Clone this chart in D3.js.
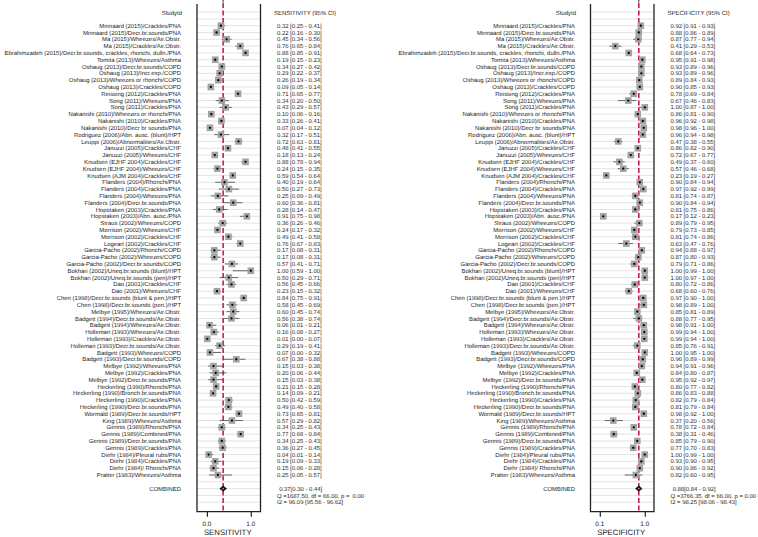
<!DOCTYPE html>
<html>
<head>
<meta charset="utf-8">
<script src="https://cdn.jsdelivr.net/npm/d3@7"></script>
<style>
  html, body { margin: 0; padding: 0; background: #fff; }
  svg text { font-family: "Liberation Sans", Arial, sans-serif; fill: #222; white-space: pre; text-rendering: geometricPrecision; }
</style>
</head>
<body>
<svg id="chart" width="758" height="537"></svg>
<script>
// ---------------- DATA ----------------
const studies = [
  "Minnaard (2015)/Crackles/PNA",
  "Minnaard (2015)/Decr.br.sounds/PNA",
  "Ma (2015)/Wheezes/Air.Obstr.",
  "Ma (2015)/Crackles/Air.Obstr.",
  "Ebrahimzadeh (2015)/Decr.br.sounds, crackles, rhonchi, dulln./PNA",
  "Tomita (2013)/Wheezes/Asthma",
  "Oshaug (2013)/Decr.br.sounds/COPD",
  "Oshaug (2013)/Incr.exp./COPD",
  "Oshaug (2013)/Wheezes or rhonchi/COPD",
  "Oshaug (2013)/Crackles/COPD",
  "Reissing (2012)/Crackles/PNA",
  "Song (2011)/Wheezes/PNA",
  "Song (2011)/Crackles/PNA",
  "Nakanishi (2010)/Wheezes or rhonchi/PNA",
  "Nakanishi (2010)/Crackles/PNA",
  "Nakanishi (2010)/Decr br sounds/PNA",
  "Rodriguez (2006)/Abn. ausc. (blunt)/HPT",
  "Leuppi (2006)/Abnormalities/Air.Obstr.",
  "Januzzi (2005)/Crackles/CHF",
  "Januzzi (2005)/Wheezes/CHF",
  "Knudsen (EJHF 2004)/Crackles/CHF",
  "Knudsen (EJHF 2004)/Wheezes/CHF",
  "Knudsen (AJM 2004)/Crackles/CHF",
  "Flanders (2004)/Rhonchi/PNA",
  "Flanders (2004)/Crackles/PNA",
  "Flanders (2004)/Wheezes/PNA",
  "Flanders (2004)/Decr.br.sounds/PNA",
  "Hopstaken (2003)/Crackles/PNA",
  "Hopstaken (2003)/Abn. ausc./PNA",
  "Straus (2002)/Wheezes/COPD",
  "Morrison (2002)/Wheezes/CHF",
  "Morrison (2002)/Crackles/CHF",
  "Logeart (2002)/Crackles/CHF",
  "Garcia-Pacho (2002)/Rhonchi/COPD",
  "Garcia-Pacho (2002)/Wheezes/COPD",
  "Garcia-Pacho (2002)/Decr.br.sounds/COPD",
  "Bokhari (2002)/Uneq.br.sounds (blunt)/HPT",
  "Bokhari (2002)/Uneq.br.sounds (pen)/HPT",
  "Dao (2001)/Crackles/CHF",
  "Dao (2001)/Wheezes/CHF",
  "Chen (1998)/Decr.br.sounds (blunt & pen.)/HPT",
  "Chen (1998)/Decr.br.sounds (pen.)/HPT",
  "Melbye (1995)/Wheezes/Air.Obstr.",
  "Badgett (1994)/Decr.br.sounds/Air.Obstr.",
  "Badgett (1994)/Wheezes/Air.Obstr.",
  "Holleman (1993)/Wheezes/Air.Obstr.",
  "Holleman (1993)/Crackles/Air.Obstr.",
  "Holleman (1993)/Decr.br.sounds/Air.Obstr.",
  "Badgett (1993)/Wheezes/COPD",
  "Badgett (1993)/Decr.br.sounds/COPD",
  "Melbye (1992)/Wheezes/PNA",
  "Melbye (1992)/Crackles/PNA",
  "Melbye (1992)/Decr.br.sounds/PNA",
  "Heckerling (1990)/Rhonchi/PNA",
  "Heckerling (1990)/Bronch.br.sounds/PNA",
  "Heckerling (1990)/Crackles/PNA",
  "Heckerling (1990)/Decr.br.sounds/PNA",
  "Wormald (1989)/Decr.br.sounds/HPT",
  "King (1989)/Wheezes/Asthma",
  "Gennis (1989)/Rhonchi/PNA",
  "Gennis (1989)/Combined/PNA",
  "Gennis (1989)/Decr.br.sounds/PNA",
  "Gennis (1989)/Crackles/PNA",
  "Diehr (1984)/Pleural rubs/PNA",
  "Diehr (1984)/Crackles/PNA",
  "Diehr (1984)/ Rhonchi/PNA",
  "Pratter (1983)/Wheezes/Asthma"
];

const sensEst = [0.32,0.22,0.45,0.76,0.88,0.19,0.34,0.29,0.26,0.09,0.71,0.34,0.43,0.10,0.33,0.07,0.32,0.72,0.48,0.18,0.88,0.24,0.59,0.40,0.50,0.25,0.60,0.28,0.91,0.36,0.24,0.49,0.76,0.17,0.17,0.57,1.00,0.50,0.56,0.23,0.84,0.58,0.60,0.56,0.06,0.16,0.01,0.29,0.07,0.67,0.15,0.20,0.15,0.21,0.14,0.50,0.49,0.73,0.57,0.34,0.77,0.34,0.36,0.04,0.19,0.15,0.25];
const sensLo  = [0.25,0.16,0.34,0.65,0.85,0.15,0.27,0.22,0.19,0.05,0.65,0.20,0.29,0.06,0.26,0.04,0.17,0.63,0.41,0.13,0.78,0.15,0.54,0.19,0.27,0.09,0.36,0.14,0.75,0.26,0.17,0.41,0.67,0.08,0.08,0.41,0.59,0.29,0.45,0.15,0.75,0.45,0.45,0.38,0.01,0.08,0.00,0.19,0.00,0.38,0.03,0.06,0.03,0.15,0.09,0.42,0.40,0.65,0.29,0.25,0.68,0.25,0.27,0.01,0.09,0.06,0.05];
const sensHi  = [0.41,0.30,0.56,0.84,0.91,0.23,0.42,0.37,0.34,0.14,0.77,0.50,0.57,0.16,0.41,0.12,0.51,0.81,0.55,0.24,0.94,0.35,0.64,0.64,0.73,0.49,0.81,0.47,0.98,0.46,0.32,0.58,0.83,0.31,0.31,0.71,1.00,0.71,0.66,0.32,0.91,0.69,0.74,0.74,0.21,0.27,0.07,0.41,0.32,0.88,0.38,0.44,0.38,0.28,0.21,0.59,0.58,0.81,0.82,0.43,0.84,0.43,0.45,0.14,0.33,0.28,0.57];

const specEst = [0.92,0.88,0.87,0.41,0.68,0.95,0.93,0.93,0.89,0.90,0.78,0.67,1.00,0.86,0.96,0.98,0.96,0.47,0.86,0.72,0.49,0.57,0.23,0.90,0.97,0.81,0.90,0.81,0.17,0.89,0.79,0.81,0.63,0.94,0.87,0.79,1.00,1.00,0.80,0.68,0.97,0.98,0.85,0.88,0.98,0.99,0.99,0.85,1.00,0.96,0.94,0.84,0.95,0.80,0.86,0.82,0.81,0.98,0.37,0.78,0.38,0.85,0.77,1.00,0.93,0.90,0.82];
const specLo  = [0.91,0.86,0.77,0.29,0.64,0.91,0.89,0.89,0.84,0.85,0.69,0.46,0.87,0.81,0.92,0.96,0.94,0.38,0.82,0.67,0.37,0.46,0.19,0.84,0.92,0.74,0.84,0.75,0.12,0.79,0.73,0.74,0.47,0.88,0.80,0.71,0.99,0.97,0.72,0.60,0.90,0.89,0.81,0.77,0.91,0.94,0.94,0.76,0.95,0.89,0.91,0.80,0.92,0.77,0.83,0.79,0.79,0.92,0.20,0.72,0.31,0.79,0.70,0.99,0.90,0.86,0.60];
const specHi  = [0.93,0.89,0.94,0.53,0.73,0.98,0.96,0.96,0.93,0.93,0.84,0.83,1.00,0.90,0.98,1.00,0.98,0.55,0.90,0.77,0.60,0.68,0.27,0.94,0.99,0.87,0.94,0.86,0.23,0.95,0.85,0.86,0.76,0.97,0.93,0.86,1.00,1.00,0.86,0.76,1.00,1.00,0.89,0.95,1.00,1.00,1.00,0.91,1.00,0.99,0.96,0.87,0.97,0.82,0.88,0.84,0.84,1.00,0.56,0.84,0.46,0.90,0.83,1.00,0.95,0.92,0.95];

// pooled estimates [est, lo, hi], heterogeneity [Q, df, p], I2 [est, lo, hi]
const sensCombined = [0.37, 0.30, 0.44];
const sensHetero   = [1687.50, 66.00, 0.00];
const sensI2       = [96.09, 95.56, 96.62];
const specCombined = [0.88, 0.84, 0.92];
const specHetero   = [3766.35, 66.00, 0.00];
const specI2       = [98.25, 98.06, 98.43];

const sensTicks = [0.0, 1.0];
const specTicks = [0.1, 1.0];
const sensTickLabels = ["0.0", "1.0"];
const specTickLabels = ["0.1", "1.0"];

// ---------------- DRAWING ----------------
const svg = d3.select("#chart");
const n = studies.length;
const y = d3.scaleLinear().domain([1, n]).range([25.7, 475]);
const f2 = d3.format(".2f");
const FS = 5.9;
const RED = "#c81e48";
const BIG = 60;

// text drawn at a large size and scaled down, so that tiny glyph widths stay exact
function txt(g, x, yy, str, size, anchor) {
  return g.append("text")
    .attr("transform", `translate(${x},${yy}) scale(${size / BIG})`)
    .attr("font-size", BIG)
    .attr("text-anchor", anchor || "start")
    .text(str);
}

function panel(cfg) {
  const g = svg.append("g");
  const x = d3.scaleLinear().domain([0, 1]).range(cfg.xr);
  const top = 4, bottom = 511.7;

  // grid lines
  g.append("g").selectAll("line").data(d3.range(-1, n + 5))
    .join("line")
    .attr("x1", cfg.boxL).attr("x2", cfg.boxR)
    .attr("y1", d => y(d)).attr("y2", d => y(d))
    .attr("stroke", "#e3e3e3").attr("stroke-width", 1);

  // pooled dashed line
  g.append("line")
    .attr("x1", x(cfg.comb[0])).attr("x2", x(cfg.comb[0]))
    .attr("y1", 3).attr("y2", bottom)
    .attr("stroke", RED).attr("stroke-width", 1.6)
    .attr("stroke-dasharray", "5,2.5");
  g.append("line")
    .attr("x1", x(cfg.comb[0])).attr("x2", x(cfg.comb[0]))
    .attr("y1", 0).attr("y2", 2.5)
    .attr("stroke", "#333").attr("stroke-width", 1);

  const data = studies.map((s, i) => ({ s, i: i + 1, est: cfg.est[i], lo: cfg.lo[i], hi: cfg.hi[i] }));
  const rows = g.append("g").selectAll("g").data(data).join("g");

  rows.append("line")
    .attr("x1", d => x(d.lo)).attr("x2", d => x(d.hi))
    .attr("y1", d => y(d.i)).attr("y2", d => y(d.i))
    .attr("stroke", "#444").attr("stroke-width", 0.8);
  const sq = 6.6;
  rows.append("rect")
    .attr("x", d => x(d.est) - sq / 2).attr("y", d => y(d.i) - sq / 2)
    .attr("width", sq).attr("height", sq)
    .attr("fill", "#a3a3a3");
  rows.append("circle")
    .attr("cx", d => x(d.est)).attr("cy", d => y(d.i)).attr("r", 1.15)
    .attr("fill", "#000");

  rows.each(function(d) {
    const r = d3.select(this);
    txt(r, cfg.labelX, y(d.i) + 2.1, d.s, FS, "end");
    txt(r, cfg.valX, y(d.i) + 2.1, `${f2(d.est)} [${f2(d.lo)} - ${f2(d.hi)}]`, FS);
  });

  // headers
  txt(g, cfg.labelX + 1, 15.4, "StudyId", FS + 0.1, "end");
  txt(g, cfg.valX - 3, 15.4, cfg.header, FS + 0.1);

  // combined
  const yc = y(n + 2);
  g.append("line")
    .attr("x1", x(cfg.comb[1])).attr("x2", x(cfg.comb[2]))
    .attr("y1", yc).attr("y2", yc).attr("stroke", "#222").attr("stroke-width", 0.9);
  const cx = x(cfg.comb[0]);
  g.append("path")
    .attr("d", `M${cx - 3.3},${yc} L${cx},${yc - 2.6} L${cx + 3.3},${yc} L${cx},${yc + 2.6} Z`)
    .attr("fill", "#111").attr("stroke", "#000").attr("stroke-width", 0.6);
  g.append("circle").attr("cx", cx).attr("cy", yc).attr("r", 0.9).attr("fill", "#999");

  txt(g, cfg.labelX, yc + 2.1, "COMBINED", FS, "end");
  txt(g, cfg.valX + 0.5, yc + 2.1, ` ${f2(cfg.comb[0])}[${f2(cfg.comb[1])} - ${f2(cfg.comb[2])}]`, FS);
  txt(g, cfg.valX, y(n + 3) + 2.1, `Q =${f2(cfg.het[0])}, df = ${f2(cfg.het[1])}, p = ${cfg.pSpace}${f2(cfg.het[2])}`, FS);
  txt(g, cfg.valX, y(n + 4) + 2.1, `I2 = ${f2(cfg.i2[0])} [${f2(cfg.i2[1])} - ${f2(cfg.i2[2])}]`, FS);

  // frame (left, right, bottom)
  g.append("path")
    .attr("d", `M${cfg.boxL},${top} V${bottom} H${cfg.boxR} V${top}`)
    .attr("fill", "none").attr("stroke", "#222").attr("stroke-width", 1.3);

  // axis
  const axis = d3.axisBottom(x).tickValues(cfg.ticks).tickFormat("").tickSize(5);
  const ag = g.append("g").attr("transform", `translate(0,${bottom})`).call(axis);
  ag.select(".domain").remove();
  ag.selectAll(".tick line").attr("stroke", "#222").attr("stroke-width", 1.2);
  cfg.ticks.forEach((t, i) => txt(g, x(t), 526.3, cfg.tickLabels[i], 6.4, "middle"));

  txt(g, (cfg.boxL + cfg.boxR) / 2 - 1, 534.6, cfg.title, 7.8, "middle");
}

panel({
  xr: [206.9, 250.8], boxL: 197, boxR: 260.5,
  labelX: 181, valX: 277,
  est: sensEst, lo: sensLo, hi: sensHi,
  comb: sensCombined, het: sensHetero, i2: sensI2, pSpace: " ",
  ticks: sensTicks, tickLabels: sensTickLabels,
  header: "SENSITIVITY (95% CI)", title: "SENSITIVITY"
});
panel({
  xr: [594.8, 644.8], boxL: 590.5, boxR: 654,
  labelX: 575, valX: 670.5,
  est: specEst, lo: specLo, hi: specHi,
  comb: specCombined, het: specHetero, i2: specI2, pSpace: "",
  ticks: specTicks, tickLabels: specTickLabels,
  header: "SPECIFICITY (95% CI)", title: "SPECIFICITY"
});
</script>
</body>
</html>
